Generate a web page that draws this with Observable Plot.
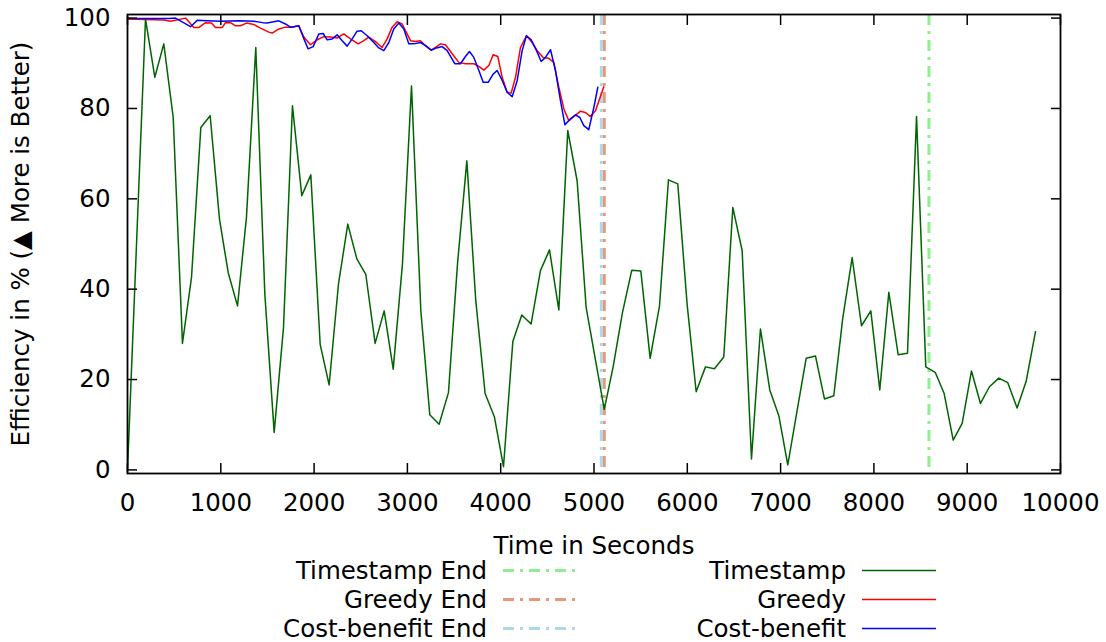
<!DOCTYPE html>
<html><head><meta charset="utf-8">
<script src="https://cdn.jsdelivr.net/npm/d3@7"></script>
<script src="https://cdn.jsdelivr.net/npm/@observablehq/plot@0.6"></script>
<style>
body{margin:0;background:#fff;font-family:"DejaVu Sans",sans-serif;}
#wrap{position:relative;width:1106px;height:642px;overflow:hidden;}
.legtxt{position:absolute;left:0;font-size:24.5px;line-height:29px;height:29px;color:#000;white-space:nowrap;text-align:right;}
.legsw{position:absolute;height:29px;}
</style></head><body><div id="wrap"></div>
<script>
// Timestamp series (seconds, efficiency %)
const tsTime = [0,193,293,389,490,589,686,786,886,986,1079,1179,1275,1375,1472,1572,1672,1768,1868,1965,2065,2161,2261,2361,2458,2554,2654,2751,2848,2947,3044,3144,3240,3340,3440,3537,3637,3733,3833,3933,4030,4130,4226,4326,4426,4523,4623,4719,4819,4916,5110,5205,5305,5405,5502,5602,5702,5798,5898,5998,6095,6195,6291,6391,6488,6588,6688,6784,6884,6981,7077,7177,7274,7374,7470,7570,7667,7767,7867,7967,8063,8160,8260,8360,8457,8556,8657,8753,8850,8946,9046,9142,9239,9339,9435,9535,9632,9732];
const tsValue = [0,99.8,86.9,94.3,78.0,28.0,42.6,75.8,78.4,55.5,43.7,36.3,55.9,93.5,38.9,8.3,31.5,80.6,60.7,65.3,27.8,18.8,41.1,54.4,46.7,43.3,28.0,35.2,22.3,45.6,85.0,35.2,12.2,10.1,17.1,45.6,68.4,37.4,16.9,11.7,0.7,28.4,34.3,32.3,44.1,48.7,35.4,75.1,64.0,35.9,13.4,22.8,34.8,44.2,44.0,24.7,36.3,64.2,63.3,36.7,17.3,22.8,22.4,25.0,58.1,48.5,2.4,31.2,17.7,12.0,1.1,13.1,24.7,25.2,15.7,16.4,33.7,47.0,31.9,35.2,17.7,39.3,25.5,25.8,78.2,22.8,21.6,16.9,6.6,10.3,21.9,14.7,18.4,20.3,19.3,13.7,19.6,30.6];

// Greedy series
const grTime = [0,389,461,622,711,764,836,900,943,1015,1050,1104,1158,1211,1275,1354,1425,1515,1551,1622,1693,1765,1836,1890,1961,2033,2104,2176,2247,2318,2390,2473,2533,2586,2658,2729,2783,2837,2890,2944,3033,3087,3140,3194,3255,3301,3355,3408,3480,3551,3623,3712,3766,3819,3873,3919,3969,4016,4069,4112,4159,4212,4276,4337,4391,4455,4516,4569,4623,4677,4730,4855,4909,4962,5016,5105];
const grValue = [99.8,99.6,99.3,100,97.9,97.9,99.0,98.9,97.9,97.9,99.0,99.0,98.3,98.3,98.9,98.6,97.8,96.9,96.7,97.6,98.0,98.0,98.3,95.8,94.1,95.2,95.9,95.8,95.6,96.5,95.4,94.3,95.0,95.8,94.8,93.5,95.4,98.0,99.2,98.7,95.0,94.8,95.0,93.9,92.9,93.5,94.3,94.1,92.1,90.2,89.9,89.9,89.3,88.5,89.5,91.9,91.5,86.9,83.6,83.4,86.9,93.5,96.1,94.6,92.8,91.3,91.1,90.2,84.7,79.9,77.3,79.4,79.1,78.2,79.5,84.8];

// Cost-benefit series
const cbTime = [0,450,514,600,675,747,850,1000,1200,1354,1450,1497,1622,1693,1747,1836,1883,1936,1990,2051,2097,2140,2194,2247,2301,2354,2408,2461,2505,2569,2640,2694,2747,2801,2854,2908,2962,3015,3069,3140,3194,3255,3312,3373,3426,3508,3569,3622,3665,3712,3766,3812,3866,3919,3962,4016,4069,4123,4177,4230,4276,4327,4384,4434,4480,4534,4587,4641,4688,4748,4802,4848,4891,4944,4998,5041];
const cbValue = [99.9,99.9,100,99.0,98.1,99.5,99.4,99.3,99.4,99.3,99.0,98.9,99.4,98.7,98.0,98.3,95.8,93.2,93.7,96.5,96.6,95.2,95.4,96.3,95.0,93.8,95.4,97.1,97.2,96.1,94.6,93.4,92.8,94.6,97.6,98.9,97.6,94.3,94.3,94.6,93.9,92.9,93.4,93.7,92.8,89.9,89.9,91.5,92.6,91.3,88.4,85.8,85.8,87.6,88.4,86.2,83.6,82.6,86.2,92.8,96.1,95.2,92.8,90.4,91.3,93.0,88.4,81.7,76.4,77.7,78.6,78.0,76.2,75.3,80.2,84.7];

const seriesNames = ["Timestamp", "Greedy", "Cost-benefit"];
const seriesColors = ["#006400", "#ff0000", "#0000ff"];
const endNames = ["Timestamp End", "Greedy End", "Cost-benefit End"];
const endTimes = [8590, 5110, 5078];
const endColors = ["#90ee90", "#e9967a", "#add8e6"];

const xTicks = [0,1000,2000,3000,4000,5000,6000,7000,8000,9000,10000];
const yTicks = [0,20,40,60,80,100];
const xLabel = "Time in Seconds";
const yLabel = "Efficiency in % (\u25B2 More is Better)";

const dash = "11,6,3,6";
const fs = 24.5;

const lineData = [
  tsTime.map((t, i) => ({t, v: tsValue[i], s: 0})),
  grTime.map((t, i) => ({t, v: grValue[i], s: 1})),
  cbTime.map((t, i) => ({t, v: cbValue[i], s: 2}))
];
const endData = endTimes.map((t, i) => ({t, c: endColors[i]}));

const chart = Plot.plot({
  width: 1106, height: 556,
  marginLeft: 127, marginRight: 46, marginTop: 14, marginBottom: 83,
  style: {fontFamily: "DejaVu Sans, sans-serif", fontSize: fs + "px", color: "#000", background: "#fff", overflow: "visible"},
  x: {domain: [0, 10000]},
  y: {domain: [-0.8, 100.8]},
  color: {type: "identity"},
  marks: [
    Plot.ruleX(endData, {x: "t", stroke: "c", strokeWidth: 3, strokeDasharray: dash}),
    ...lineData.map((d, i) => Plot.line(d, {x: "t", y: "v", stroke: seriesColors[i], strokeWidth: 1.5})),
    Plot.axisX({anchor: "bottom", ticks: xTicks, tickSize: 0, tickPadding: 20, label: null, tickFormat: d => String(d), fontSize: fs}),
    Plot.axisX({anchor: "bottom", ticks: xTicks, tickSize: -10, fill: "none", label: null, strokeWidth: 1.5}),
    Plot.axisX({anchor: "top", ticks: xTicks, tickSize: -10, fill: "none", label: null, strokeWidth: 1.5}),
    Plot.axisY({anchor: "left", ticks: yTicks, tickSize: 0, tickPadding: 17, label: null, tickFormat: d => String(d), fontSize: fs}),
    Plot.axisY({anchor: "left", ticks: yTicks, tickSize: -10, fill: "none", label: null, strokeWidth: 1.5}),
    Plot.axisY({anchor: "right", ticks: yTicks, tickSize: -10, fill: "none", label: null, strokeWidth: 1.5}),
    Plot.frame({stroke: "#000", strokeWidth: 1.8}),
    Plot.text([xLabel], {frameAnchor: "bottom", lineAnchor: "middle", dy: 73, text: d => d, fontSize: fs, fill: "#000"}),
    Plot.text([yLabel], {frameAnchor: "left", textAnchor: "middle", lineAnchor: "middle", rotate: -90, dx: -106, text: d => d, fontSize: fs, fill: "#000"})
  ]
});
const wrap = document.getElementById("wrap");
chart.style.position = "absolute";
chart.style.left = "0px";
chart.style.top = "0px";
wrap.appendChild(chart);

// Legend (two columns, three rows) below the chart
const rowTop = [556, 585, 614];
function addEntry(name, color, dashed, textRight, swLeft, row) {
  const t = document.createElement("div");
  t.className = "legtxt";
  t.style.width = textRight + "px";
  t.style.top = rowTop[row] + "px";
  t.textContent = name;
  wrap.appendChild(t);
  const sw = document.createElementNS("http://www.w3.org/2000/svg", "svg");
  sw.setAttribute("width", 74);
  sw.setAttribute("height", 29);
  sw.setAttribute("class", "legsw");
  sw.style.left = swLeft + "px";
  sw.style.top = rowTop[row] + "px";
  const ln = document.createElementNS("http://www.w3.org/2000/svg", "line");
  ln.setAttribute("x1", 0); ln.setAttribute("x2", 74);
  ln.setAttribute("y1", 14.5); ln.setAttribute("y2", 14.5);
  ln.setAttribute("stroke", color);
  ln.setAttribute("stroke-width", dashed ? 3 : 1.5);
  if (dashed) ln.setAttribute("stroke-dasharray", dash);
  sw.appendChild(ln);
  wrap.appendChild(sw);
}
endNames.forEach((n, i) => addEntry(n, endColors[i], true, 487, 503, i));
seriesNames.forEach((n, i) => addEntry(n, seriesColors[i], false, 846, 862, i));
</script></body></html>
